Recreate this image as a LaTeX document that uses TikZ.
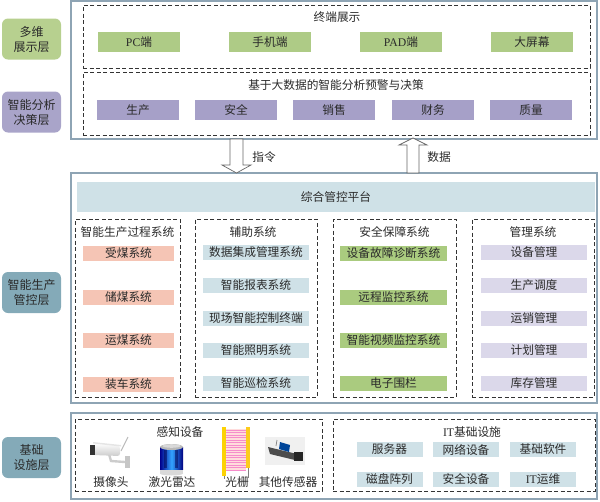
\documentclass[tikz,border=0pt]{standalone}
\usepackage{fontspec}
\setmainfont{Liberation Serif}
\newfontfamily\cj{Noto Sans CJK SC}
\definecolor{frame}{HTML}{8EA4B4}
\definecolor{lgreen}{HTML}{B7D08F}
\definecolor{lpurple}{HTML}{A9A4C9}
\definecolor{lteal}{HTML}{84AAB8}
\definecolor{igreen}{HTML}{AECB86}
\definecolor{ipurple}{HTML}{A6A0C8}
\definecolor{pblue}{HTML}{CFE1E7}
\definecolor{isalmon}{HTML}{F5C5B5}
\definecolor{iblue}{HTML}{CFE1E7}
\definecolor{igreenb}{HTML}{AACB7F}
\definecolor{ilav}{HTML}{DBD8EA}
\definecolor{txt}{HTML}{2A2A2A}
\begin{document}
\begin{tikzpicture}[x=1pt,y=-1pt,
  every node/.style={font=\cj\fontsize{11.7}{14}\selectfont, text=txt, inner sep=0pt},
  layer/.style={rounded corners=6pt, minimum width=59pt, minimum height=41pt, align=center, font=\cj\fontsize{12}{15}\selectfont},
  outerbox/.style={draw=frame, line width=1.1pt, minimum width=526pt},
  grp/.style={draw=black!80, dash pattern=on 4pt off 2.5pt, line width=0.9pt},
  topitem/.style={minimum width=82pt, minimum height=20pt},
  item/.style={minimum height=15pt},
  blockarr/.style={draw=black!60, fill=white, line width=0.7pt},
]
\useasboundingbox (0,0) rectangle (600,501);

% layer labels
\node[layer, fill=lgreen] (l1) at (31.5,39) {多维\\展示层};
\node[layer, fill=lpurple] (l2) at (31.5,112) {智能分析\\决策层};
\node[layer, fill=lteal] (l3) at (31.5,292.5) {智能生产\\管控层};
\node[layer, fill=lteal] (l4) at (31.5,457.5) {基础\\设施层};

% outer boxes
\node[outerbox, minimum height=138pt] (topbox) at (334,70) {};
\node[outerbox, minimum height=230pt] (midbox) at (334,288) {};
\node[outerbox, minimum height=86pt] (botbox) at (334,456) {};

% top layer
\node[grp, minimum width=507pt, minimum height=63pt] (term) at (336.5,36.5) {};
\node[grp, minimum width=507pt, minimum height=63pt] (ana) at (336.5,103.5) {};
\node (termt) at (337,17) {终端展示};
\node[topitem, fill=igreen] (pc) at (139,42) {{\rmfamily PC}端};
\node[topitem, fill=igreen] (phone) at (270,42) {手机端};
\node[topitem, fill=igreen] (pad) at (401,42) {{\rmfamily PAD}端};
\node[topitem, fill=igreen] (screen) at (532,42) {大屏幕};
\node (anat) at (336,85) {基于大数据的智能分析预警与决策};
\node[topitem, fill=ipurple] (sc) at (138,110) {生产};
\node[topitem, fill=ipurple] (aq) at (236,110) {安全};
\node[topitem, fill=ipurple] (xs) at (334,110) {销售};
\node[topitem, fill=ipurple] (cw) at (433,110) {财务};
\node[topitem, fill=ipurple] (zl) at (531,110) {质量};

% block arrows
\coordinate (cmdtop) at (236.5,139);
\coordinate (datbot) at (413,173);
\draw[blockarr] (cmdtop) ++(-6.5,0) -- ++(13,0) -- ++(0,26) -- ++(8,0) -- ++(-14.5,8) -- ++(-14.5,-8) -- ++(8,0) -- cycle;
\draw[blockarr] (datbot) ++(-6,0) -- ++(12,0) -- ++(0,-28) -- ++(8,0) -- ++(-14,-7) -- ++(-14,7) -- ++(8,0) -- cycle;
\node (cmdl) at (264,157) {指令};
\node (datl) at (439,157) {数据};

% middle layer
\node[fill=pblue, minimum width=518pt, minimum height=30pt] (plat) at (336,197) {综合管控平台};
\node[grp, minimum width=105pt, minimum height=178pt] (g1) at (127.5,308) {};
\node[grp, minimum width=122pt, minimum height=178pt] (g2) at (256,308) {};
\node[grp, minimum width=123pt, minimum height=178pt] (g3) at (394.5,308) {};
\node[grp, minimum width=122pt, minimum height=178pt] (g4) at (533,308) {};
\node (g1t) at (127.5,232) {智能生产过程系统};
\node (g2t) at (253,232) {辅助系统};
\node (g3t) at (394.5,232) {安全保障系统};
\node (g4t) at (533,232) {管理系统};

\node[item, fill=isalmon, minimum width=91pt] (a1) at (128.5,253.5) {受煤系统};
\node[item, fill=isalmon, minimum width=91pt] (a2) at (128.5,297.5) {储煤系统};
\node[item, fill=isalmon, minimum width=91pt] (a3) at (128.5,340.5) {运煤系统};
\node[item, fill=isalmon, minimum width=91pt] (a4) at (128.5,384) {装车系统};

\node[item, fill=iblue, minimum width=106pt] (b1) at (256,252.5) {数据集成管理系统};
\node[item, fill=iblue, minimum width=106pt] (b2) at (256,285.5) {智能报表系统};
\node[item, fill=iblue, minimum width=106pt] (b3) at (256,318.5) {现场智能控制终端};
\node[item, fill=iblue, minimum width=106pt] (b4) at (256,350.5) {智能照明系统};
\node[item, fill=iblue, minimum width=106pt] (b5) at (256,383.5) {智能巡检系统};

\node[item, fill=igreenb, minimum width=107pt] (c1) at (393.5,253.5) {设备故障诊断系统};
\node[item, fill=igreenb, minimum width=107pt] (c2) at (393.5,297) {远程监控系统};
\node[item, fill=igreenb, minimum width=107pt] (c3) at (393.5,340.5) {智能视频监控系统};
\node[item, fill=igreenb, minimum width=107pt] (c4) at (393.5,383.5) {电子围栏};

\node[item, fill=ilav, minimum width=106pt] (d1) at (534,252.5) {设备管理};
\node[item, fill=ilav, minimum width=106pt] (d2) at (534,285.5) {生产调度};
\node[item, fill=ilav, minimum width=106pt] (d3) at (534,318.5) {运销管理};
\node[item, fill=ilav, minimum width=106pt] (d4) at (534,350.5) {计划管理};
\node[item, fill=ilav, minimum width=106pt] (d5) at (534,383.5) {库存管理};

% bottom layer
\node[grp, minimum width=247pt, minimum height=72pt] (g5) at (198.5,455) {};
\node[grp, minimum width=262pt, minimum height=72pt] (g6) at (464,455) {};
\node (g5t) at (180,432) {感知设备};
\node (g6t) at (472,432) {{\rmfamily IT}基础设施};
\node[item, fill=iblue, minimum width=66pt] (e1) at (389.5,449.5) {服务器};
\node[item, fill=iblue, minimum width=66pt] (e2) at (466,449.5) {网络设备};
\node[item, fill=iblue, minimum width=66pt] (e3) at (543,449.5) {基础软件};
\node[item, fill=iblue, minimum width=66pt] (e4) at (389.5,479.5) {磁盘阵列};
\node[item, fill=iblue, minimum width=66pt] (e5) at (466,479.5) {安全设备};
\node[item, fill=iblue, minimum width=66pt] (e6) at (543,479.5) {{\rmfamily IT}运维};

% camera
\draw[gray!55, line width=1pt] (121,451) -- (128,437);
\draw[gray!40, line width=2.4pt] (109,454) -- (111,461) -- (125,462);
\fill[gray!45] (125,456) rectangle (129.5,468);
\shade[top color=white, bottom color=gray!40, rounded corners=2.5pt] (93,443) -- (120,446) -- (120,456) -- (93,455) -- cycle;
\fill[gray!20] (93,442) -- (121,445) -- (121,446.5) -- (93,443.5) -- cycle;
\fill[black!80] (90,444.5) rectangle (94.5,454.5);
% lidar
\fill[gray!30] (160,469) rectangle (183,473.5);
\fill[gray!30] (171.5,473.5) ellipse [x radius=11.5, y radius=2];
\shade[left color=blue!55!black, right color=blue!50!black, middle color=blue!45!cyan!80!white] (160,447) rectangle (183,469);
\fill[blue!30!black, opacity=0.5] (164,450) rectangle (167,468);
\fill[blue!30!black, opacity=0.5] (175,450) rectangle (178,468);
\fill[gray!55] (171.5,447) ellipse [x radius=11.5, y radius=3];
\fill[gray!30] (171.5,446) ellipse [x radius=9, y radius=1.8];
% light curtain
\fill[pink!55] (226,429) rectangle (246,471);
\foreach \yy in {430,432.5,...,470} \draw[magenta!45, line width=0.6pt] (226,\yy) -- (246,\yy);
\fill[yellow!70!orange] (222,427) rectangle (226,476);
\fill[yellow!60!orange!90] (246,427) rectangle (249.5,468);
\draw[gray, line width=0.8pt] (248,468) -- (248,478);
\draw[gray, line width=0.8pt] (224,476) -- (224,479);
% sensor
\fill[gray!12] (265,437) rectangle (305,465);
\fill[black!70] (268,447) -- (297,454) -- (299,461) -- (270,454) -- cycle;
\fill[blue!55!cyan!60!black] (280,442) -- (290,445) -- (289,452) -- (279,449) -- cycle;
\fill[black!85] (294,451.5) rectangle (303,461);
\draw[gray, line width=0.7pt] (276,446) -- (277,440);

\node (s1) at (111,482) {摄像头};
\node (s2) at (172,482) {激光雷达};
\node (s3) at (237,482) {光栅};
\node (s4) at (288,482) {其他传感器};
\end{tikzpicture}
\end{document}
